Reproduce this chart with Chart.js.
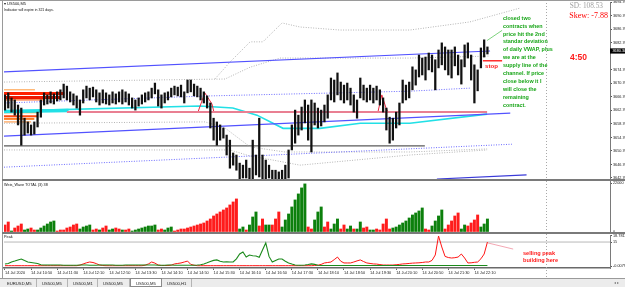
<!DOCTYPE html>
<html>
<head>
<meta charset="utf-8">
<script src="https://cdn.jsdelivr.net/npm/chart.js@4.4.1/dist/chart.umd.min.js"></script>
<style>
  html, body { margin: 0; padding: 0; background: #fff; }
  #wrap { position: relative; width: 625px; height: 287px; overflow: hidden; background: #fff; font-family: 'Liberation Sans', Arial, sans-serif; color: #111; }
  canvas { position: absolute; left: 0; }
  .line { position: absolute; background: #7a7a7a; }
  .s { position: absolute; transform-origin: 0 0; transform: scale(0.5); white-space: nowrap; }
  .txt { position: absolute; white-space: nowrap; }
  #tabs { position: absolute; left: 0; top: 278px; width: 625px; height: 9px; background: #ececec; border-top: 1px solid #9a9a9a; box-sizing: border-box; }
  .tab { position: absolute; top: 0; height: 8px; border-right: 1px solid #b4b4b4; box-sizing: border-box; }
  .tab.active { background: #fff; border: 1px solid #8a8a8a; top: -1px; height: 9px; }
</style>
</head>
<body>
<div id="wrap">
  <canvas id="mainChart" width="625" height="179" style="top:0;width:625px;height:179px"></canvas>
  <canvas id="weisChart" width="625" height="51" style="top:181px;width:625px;height:51px"></canvas>
  <canvas id="peakChart" width="625" height="44" style="top:234px;width:625px;height:44px"></canvas>

  <div class="line" style="left:0;top:0;width:625px;height:1px;background:#9a9a9a"></div>
  <div class="line" style="left:2px;top:0;width:1px;height:278px;background:#9a9a9a"></div>
  <div class="line" style="left:2px;top:179px;width:623px;height:2px"></div>
  <div class="line" style="left:2px;top:232px;width:623px;height:2px"></div>

  <div class="s" style="left:4px;top:1.5px;font-size:8px;line-height:8px">&#9662; US500,M5</div>
  <div class="s" style="left:4px;top:7.5px;font-size:7px;line-height:7px">Indicator will expire in 321 days.</div>
  <div class="txt" style="right:22px;top:1.9px;font:7.3px/8px 'Liberation Serif',serif;color:#a0a0a0">SD: 108.53</div>
  <div class="txt" style="right:17px;top:11.4px;font:8px/9px 'Liberation Serif',serif;color:#ff0000">Skew: -7.88</div>
  <div class="s" style="left:503px;top:14px;font:bold 10.8px/15.8px 'Liberation Sans',sans-serif;color:#18a518">closed two<br>contracts when<br>price hit the 2nd<br>standar deviation<br>of daily VWAP, plus<br>we are at the<br>supply line of the<br>channel. If price<br>close below it I<br>will close the<br>remaining<br>contract.</div>
  <div class="txt" style="left:570px;top:52px;font:bold 8.5px/10px 'Liberation Sans',sans-serif;color:#ff1a1a">4:50</div>
  <div class="s" style="left:485px;top:62.2px;font:bold 12.4px/14px 'Liberation Sans',sans-serif;color:#ff1a1a">stop</div>
  <div class="s" style="left:4px;top:182.5px;font-size:7.6px;line-height:8px">Weis_Wave TOTAL (3) 38</div>
  <div class="s" style="left:4px;top:235px;font-size:7.6px;line-height:8px">Peak</div>
  <div class="s" style="left:523px;top:248.7px;font:bold 11.2px/15.4px 'Liberation Sans',sans-serif;color:#ff1a1a">selling peak<br>building here</div>

  <div id="tabs"></div>
  <div class="s" style="left:614px;top:280.5px;font-size:8px;line-height:8px;color:#777">&#9666; &#9656;</div>
</div>

<script>
// bar index -> time label, one label every 8 bars (M5)
const timeLabels = ['14 Jul 2020', '14 Jul 10:50', '14 Jul 11:30', '14 Jul 12:10', '14 Jul 12:50', '14 Jul 13:30',
  '14 Jul 14:10', '14 Jul 14:50', '14 Jul 15:30', '14 Jul 16:10', '14 Jul 16:50', '14 Jul 17:30', '14 Jul 18:10',
  '14 Jul 18:50', '14 Jul 19:30', '14 Jul 20:10', '14 Jul 20:50', '14 Jul 21:30', '14 Jul 22:10'];
const priceTicks = ['3642.70', '3646.70', '3650.70', '3654.70', '3658.70', '3662.70', '3666.70', '3670.70',
  '3674.70', '3682.70', '3686.70', '3690.70', '3694.70'];
const weisTicks = ['0', '22000'];
const peakTicks = ['-0.0079', '15', '18.7811'];

const candleHigh = [
  3667.3, 3667.9, 3666.4, 3665.8, 3664.3, 3663.4, 3660.4, 3659.3, 3658.4, 3659.3,
  3662.2, 3665.8, 3667.9, 3667.3, 3668.2, 3667.6, 3668.2, 3668.8, 3670.5, 3669.9,
  3668.2, 3667.6, 3667.0, 3665.8, 3668.8, 3669.9, 3669.3, 3669.6, 3668.8, 3667.9,
  3668.8, 3667.9, 3667.3, 3668.2, 3667.6, 3668.2, 3668.8, 3668.2, 3667.6, 3666.4,
  3665.8, 3666.4, 3667.3, 3667.9, 3668.2, 3669.3, 3670.8, 3668.8, 3667.3, 3667.9,
  3668.2, 3669.3, 3669.9, 3669.6, 3670.2, 3668.2, 3671.7, 3671.7, 3670.5, 3669.9,
  3669.3, 3668.2, 3667.0, 3664.9, 3660.4, 3659.3, 3658.4, 3657.5, 3655.4, 3653.9,
  3650.1, 3649.5, 3647.1, 3646.5, 3648.0, 3645.6, 3653.9, 3649.5, 3660.4, 3649.5,
  3648.0, 3646.5, 3645.0, 3645.0, 3644.5, 3645.0, 3646.5, 3651.0, 3658.4, 3662.8,
  3661.3, 3663.7, 3665.8, 3664.3, 3665.8, 3664.9, 3663.4, 3662.8, 3664.3, 3667.3,
  3672.3, 3671.7, 3673.8, 3671.1, 3670.2, 3670.8, 3669.3, 3667.3, 3665.8, 3672.3,
  3670.2, 3669.3, 3670.2, 3669.3, 3669.9, 3668.8, 3666.4, 3663.4, 3660.7, 3660.4,
  3662.2, 3664.9, 3671.7, 3670.2, 3671.1, 3675.6, 3674.7, 3679.1, 3678.2, 3678.5,
  3679.7, 3679.1, 3677.7, 3680.6, 3682.7, 3681.5, 3680.6, 3680.6, 3681.5, 3679.1,
  3677.7, 3682.1, 3682.7, 3679.1, 3676.2, 3674.7, 3681.2, 3683.6, 3681.5];
const candleLow = [
  3662.8, 3663.4, 3662.2, 3661.3, 3658.4, 3652.4, 3655.4, 3656.0, 3655.4, 3655.7,
  3657.8, 3660.7, 3664.3, 3664.6, 3664.9, 3664.6, 3665.5, 3665.8, 3666.4, 3665.8,
  3665.2, 3664.3, 3663.4, 3661.3, 3664.9, 3666.4, 3665.8, 3666.7, 3665.2, 3664.3,
  3664.9, 3664.6, 3664.3, 3664.9, 3664.6, 3665.2, 3664.6, 3665.2, 3664.3, 3663.4,
  3662.8, 3664.0, 3664.6, 3665.2, 3665.8, 3666.4, 3667.6, 3664.0, 3663.4, 3664.9,
  3665.8, 3666.7, 3667.3, 3667.0, 3666.7, 3664.9, 3667.9, 3668.2, 3667.0, 3666.7,
  3665.8, 3664.9, 3663.4, 3657.5, 3653.9, 3652.4, 3653.9, 3654.5, 3649.5, 3645.6,
  3646.5, 3645.0, 3642.1, 3642.7, 3642.7, 3642.1, 3642.1, 3643.6, 3643.0, 3642.1,
  3642.1, 3642.7, 3642.1, 3642.1, 3642.1, 3642.1, 3642.1, 3642.7, 3651.0, 3653.0,
  3655.4, 3656.9, 3659.0, 3653.9, 3650.4, 3658.4, 3657.5, 3658.1, 3659.3, 3660.4,
  3665.8, 3665.2, 3667.3, 3665.8, 3664.9, 3665.8, 3664.3, 3662.2, 3660.4, 3666.4,
  3665.8, 3665.2, 3665.8, 3664.9, 3665.8, 3664.3, 3662.2, 3656.9, 3653.0, 3653.9,
  3657.5, 3658.4, 3664.9, 3665.8, 3666.4, 3668.8, 3670.2, 3672.6, 3673.2, 3671.7,
  3674.7, 3674.1, 3668.8, 3675.3, 3676.2, 3674.7, 3673.2, 3672.3, 3675.9, 3673.2,
  3670.5, 3675.6, 3678.2, 3671.7, 3664.9, 3668.5, 3675.3, 3678.5, 3679.4];
const lastPrice = 3680.3;

// Weis wave volume: positive = up wave, negative = down wave
const weisVol = [
  -3150, -4500, 450, -1800, -2700, -3600, 900, 1350, -1800, -900,
  900, 1800, 2700, 3600, 4500, 4950, -450, -900, -900, -1800,
  -2250, -3150, -3600, 1350, 2250, 2700, 3150, -900, -1350, 900,
  -1800, -2700, 900, 1350, -1800, -1350, 900, -900, -1350, 450,
  900, 1350, 1800, 2250, 2700, 2700, 3150, -900, -1350, 900,
  1800, 2250, -450, -900, -1350, -1350, -1800, -2250, -2700, -3150,
  -3600, -4050, -4950, -5850, -7200, -8100, -9000, -9900, -10800, -12150,
  -13500, -14850, 1350, 2250, -900, 3150, 6750, 9000, -2700, -5850,
  3150, 3150, -3150, -5850, -9000, 2250, 5400, 8100, 11250, 14400,
  17100, 19800, 21600, -2250, -1350, 5400, 9000, 11250, -2250, -4500,
  1350, 3600, 5850, -1350, -3150, 1350, 2700, -1350, 1350, 4500,
  -1800, -2250, 900, 900, -1350, -900, -3600, -5850, -1350, 1800,
  2250, 3150, 4050, 4950, 6300, 7650, 8550, 9450, 10800, -1350,
  -900, 2700, 4950, 7200, 9900, -1350, -3150, -4950, -7200, -8550,
  1350, 3150, -2700, -4050, -5400, -7650, 2250, 3600, 5850];

const peakBuy = [
  1.3, 1.6, 2.5, 3.1, 3.8, 4.4, 3.4, 2.5, 2.2, 1.9,
  1.6, 0.8, 0.6, 0.6, 0.6, 0.6, 0.6, 0.6, 0.5, 0.5,
  0.5, 0.5, 0.5, 0.6, 0.6, 0.6, 0.5, 0.5, 0.5, 0.6,
  0.6, 0.6, 0.6, 0.6, 0.5, 0.5, 0.5, 0.6, 0.6, 0.6,
  0.6, 0.6, 0.6, 0.6, 0.6, 0.6, 0.6, 0.5, 0.5, 0.5,
  0.6, 0.6, 0.5, 0.5, 0.5, 0.5, 0.5, 0.5, 0.5, 0.6,
  0.8, 1.3, 2.0, 2.8, 3.5, 3.8, 3.0, 2.5, 2.6, 2.5,
  2.6, 4.5, 7.5, 8.8, 5.6, 6.9, 6.4, 6.3, 5.5, 10.0,
  14.4, 6.0, 2.5, 3.5, 4.4, 4.4, 3.0, 1.9, 1.2, 0.6,
  0.5, 0.5, 0.6, 0.9, 1.3, 1.0, 0.5, 0.3, 0.3, 0.3,
  0.3, 0.3, 0.3, 0.3, 0.3, 0.3, 0.3, 0.3, 0.3, 0.3,
  0.3, 0.3, 0.3, 0.3, 0.3, 0.3, 0.3, 0.3, 0.3, 0.3,
  0.3, 0.3, 0.3, 0.3, 0.3, 0.3, 0.3, 0.3, 0.3, 0.3,
  0.3, 0.3, 0.3, 0.3, 0.3, 0.3, 0.3, 0.3, 0.3, 0.3,
  0.3, 0.3, 0.3, 0.3, 0.3, 0.3, 0.3, 0.3, 0.3];
const peakSell = [
  0.2, 0.2, 0.2, 0.2, 0.2, 0.2, 0.2, 0.2, 0.2, 0.2,
  0.2, 0.2, 0.2, 0.2, 0.2, 0.2, 0.2, 0.2, 0.2, 0.2,
  0.2, 0.2, 0.2, 0.5, 1.3, 2.0, 2.5, 2.2, 1.5, 0.6,
  0.3, 0.2, 0.2, 0.2, 0.2, 0.2, 0.2, 0.2, 0.2, 0.2,
  0.2, 0.2, 0.2, 0.5, 1.3, 2.5, 1.8, 0.6, 0.3, 0.3,
  0.3, 0.5, 1.3, 1.6, 1.9, 2.5, 3.1, 1.0, 0.5, 0.2,
  0.2, 0.2, 0.2, 0.2, 0.2, 0.2, 0.2, 0.2, 0.2, 0.2,
  0.2, 0.2, 0.2, 0.2, 0.2, 0.2, 0.2, 0.2, 0.2, 0.2,
  0.2, 0.2, 0.2, 0.2, 0.2, 0.2, 0.2, 0.2, 0.2, 0.2,
  0.2, 0.2, 0.2, 0.2, 0.2, 0.3, 0.5, 1.0, 1.9, 2.2,
  2.5, 4.0, 5.6, 3.0, 1.9, 1.9, 1.9, 2.5, 3.2, 3.8,
  2.8, 1.9, 1.6, 1.3, 1.2, 0.9, 0.6, 0.6, 0.6, 0.6,
  0.8, 1.0, 1.3, 1.4, 1.6, 1.8, 1.9, 2.0, 2.2, 2.5,
  2.5, 3.5, 6.9, 18.78, 11.9, 6.0, 5.3, 5.0, 5.2, 5.6,
  7.5, 5.0, 1.9, 2.0, 2.3, 2.5, 4.5, 7.5, 15.0];
const peakLevel = 15;

// indicator lines on the price pane: [bar index, price]
const channelTop = [[-0.3, 3674.1], [148.8, 3680.3]];
const channelBottom = [[-0.3, 3655.1], [155, 3661.9]];
const channelLow = [[-0.3, 3645.9], [155.5, 3652.7]];
const channelBase = [[132.5, 3642.4], [160, 3643.6]];
const bandInner = [[-0.3, 3664.9], [62.9, 3667.0], [124.2, 3668.4], [142.6, 3669.3]];
const vwapUp1 = [[-0.3, 3671.1], [67.5, 3672.0], [75.2, 3675.5], [84.4, 3678.2], [124.2, 3678.2], [148.8, 3678.8]];
const vwapUp2 = [[64.4, 3672.0], [69, 3677.0], [75.2, 3683.0], [79.1, 3683.0], [85, 3688.6], [90.5, 3687.4],
  [102.8, 3686.5], [124.2, 3686.5], [142.6, 3688.9], [158, 3693.0]];
const vwapLow1 = [[-0.3, 3658.9], [61.4, 3659.3], [67.5, 3657.5], [75.2, 3651.9], [85.9, 3650.4], [124.2, 3650.4], [147.9, 3651.3]];
const vwapLow2 = [[-0.3, 3651.0], [69, 3651.0], [75.2, 3649.2], [82.2, 3648.0], [90.5, 3646.5], [124.2, 3649.5], [147.9, 3651.0]];
const greyLevel = [[-0.3, 3652.2], [128.8, 3652.2]];
const vwapLine = [[-0.3, 3662.5], [59.8, 3664.0], [69.9, 3663.4], [77.3, 3661.3], [85.3, 3657.4], [96.6, 3657.4],
  [109, 3658.9], [124.2, 3658.9], [147.9, 3661.6]];
const vwapStart = [[-0.3, 3662.4], [19.5, 3662.7]];
const pinkLevel = [[19, 3662.2], [147.9, 3662.2]];
const spikeA = [[59.2, 3662.2], [61.3, 3667.9], [63.5, 3664.6], [64.1, 3662.2]];
const spikeB = [[114.4, 3662.2], [115.6, 3667.3], [116.9, 3663.4], [117.5, 3662.2]];
const stopLine = [[146.6, 3677.4], [152.5, 3677.4]];
const noteLine = [[147.9, 3683.4], [152.5, 3686.4]];
const sellNote = [[148.2, 14.4], [155.9, 10.6]];
// supply / demand zones at the left edge: [price, last bar]
const supplyZone = [[3668.8, 9.2], [3667.7, 18.2], [3666.5, 16.9], [3665.8, 12]];
const demandZone = [[3662.1, 10], [3661.0, 10], [3660.2, 9], [3659.3, 8]];
const shiftBar = 165.9;

const tabNames = ['EURUSD,M5', 'US500,M5', 'US500,M1', 'US500,M5', 'US500,M5', 'US500,H1'];
const tabEdges = [2, 37, 68, 98, 130, 162, 192];
const activeTab = 4;

// ---- tabs ----
const tabBar = document.getElementById('tabs');
tabNames.forEach((name, i) => {
  const t = document.createElement('div');
  t.className = 'tab' + (i === activeTab ? ' active' : '');
  t.style.left = tabEdges[i] + 'px';
  t.style.width = (tabEdges[i + 1] - tabEdges[i]) + 'px';
  const s = document.createElement('div');
  s.className = 's';
  s.style.cssText = 'left:5px;top:1.5px;font-size:8.4px;line-height:9px;color:#222';
  s.textContent = name;
  t.appendChild(s);
  tabBar.appendChild(t);
});

// ---- chart helpers ----
const xMin = -0.3, xMax = 185.6, labelEvery = 8;
const axisFont = { size: 3.8, family: "'Liberation Sans', Arial, sans-serif" };

const pts = arr => arr.map(p => ({ x: p[0], y: p[1] }));
const line = (arr, color, width, dash, order) => ({
  type: 'line', data: pts(arr), borderColor: color, borderWidth: width, borderDash: dash || [],
  pointRadius: 0, fill: false, tension: 0, order: order || 2
});

const xAxis = show => ({
  type: 'linear', min: xMin, max: xMax, offset: false, display: show,
  afterBuildTicks: s => { s.ticks = timeLabels.map((_, k) => ({ value: k * labelEvery })); },
  afterFit: s => { s.paddingLeft = 0; s.paddingRight = 0; if (show) s.height = 10; },
  ticks: {
    autoSkip: false, maxRotation: 0, minRotation: 0, align: 'start', padding: 0.5,
    font: { size: 3.9, family: axisFont.family }, color: '#222',
    callback: v => timeLabels[Math.round(v / labelEvery)]
  },
  grid: { drawOnChartArea: false, drawTicks: true, tickLength: 2, color: '#666' },
  border: { display: show, color: '#6a6a6a', width: 1.5 }
});

const yAxis = (min, max, labels) => ({
  type: 'linear', position: 'right', min: min, max: max,
  afterBuildTicks: s => { s.ticks = labels.map(t => ({ value: parseFloat(t) })); },
  afterFit: s => { s.width = 15; s.paddingTop = 0; s.paddingBottom = 0; },
  ticks: { autoSkip: false, padding: 1, font: axisFont, color: '#222', callback: (v, i) => labels[i] },
  grid: { drawOnChartArea: false, drawTicks: true, tickLength: 2, color: '#555' },
  border: { display: true, color: '#7a7a7a' }
});

const overlay = {
  id: 'overlay',
  afterDatasetsDraw(chart, args, opts) {
    const { ctx } = chart;
    const px = Math.round(chart.scales.x.getPixelForValue(shiftBar)) + 0.5;
    ctx.save();
    ctx.strokeStyle = '#a8a8a8';
    ctx.lineWidth = 1;
    ctx.setLineDash([1, 2]);
    ctx.beginPath();
    ctx.moveTo(px, 0);
    ctx.lineTo(px, chart.height);
    ctx.stroke();
    ctx.setLineDash([]);
    if (opts && opts.price) {
      const y = chart.scales.y.getPixelForValue(lastPrice);
      const left = chart.chartArea.right;
      ctx.fillStyle = '#000';
      ctx.fillRect(left, y - 2.6, 15, 5.2);
      ctx.fillStyle = '#fff';
      ctx.font = '3.8px ' + axisFont.family;
      ctx.textBaseline = 'middle';
      ctx.fillText(lastPrice.toFixed(2), left + 2.5, y + 0.2);
    }
    ctx.restore();
  }
};

const baseOptions = (scales, price, padTop) => ({
  responsive: false, animation: false, devicePixelRatio: 1,
  layout: { padding: { left: 4, top: padTop, right: 0, bottom: 0 } },
  plugins: { legend: { display: false }, tooltip: { enabled: false }, overlay: { price: price } },
  scales: scales
});

// ---- price pane ----
const supplyColors = ['#ff9a3c', '#ff2200', '#ee1a00', '#ff6a2a'];
const supplyWidths = [1, 3, 3, 1.2];
const demandColors = ['#ff8c1a', '#ff4a10', '#ff7a20', '#ffb070'];
const demandWidths = [1.5, 2, 2, 1.5];

const mainSets = [
  {
    type: 'bar', data: candleHigh.map((h, i) => ({ x: i, y: [candleLow[i], h] })),
    backgroundColor: '#111', barThickness: 1.6, order: 0
  },
  line(channelTop, '#5252ff', 1.2),
  line(channelBottom, '#5252ff', 1.2),
  line(channelLow, '#6a6aff', 1, [1, 1.5]),
  line(channelBase, '#3a3ad8', 1.2),
  line(bandInner, '#6a6aff', 1, [1, 1.5]),
  line(vwapUp1, '#b4b4b4', 1, [1, 1.5]),
  line(vwapUp2, '#b4b4b4', 1, [1, 1.5]),
  line(vwapLow1, '#b4b4b4', 1, [1, 1.5]),
  line(vwapLow2, '#b4b4b4', 1, [1, 1.5]),
  line(greyLevel, '#5a5a5a', 1.2),
  line(pinkLevel, '#e97f92', 2),
  line(spikeA, '#e8283f', 1),
  line(spikeB, '#e8283f', 1),
  line(vwapLine, '#22e0e6', 1.6),
  line(vwapStart, '#22e0e6', 3.5),
  line(stopLine, '#ff3030', 1.5),
  line(noteLine, '#5ec85e', 0.8)
];
supplyZone.forEach((z, k) => mainSets.push(line([[-0.3, z[0]], [z[1], z[0]]], supplyColors[k], supplyWidths[k], null, 3)));
demandZone.forEach((z, k) => mainSets.push(line([[-0.3, z[0]], [z[1], z[0]]], demandColors[k], demandWidths[k], null, 3)));

new Chart(document.getElementById('mainChart'), {
  type: 'bar',
  data: { datasets: mainSets },
  options: baseOptions({ x: xAxis(false), y: yAxis(3642.4, 3694.8, priceTicks) }, true, 2),
  plugins: [overlay]
});

// ---- Weis wave pane ----
new Chart(document.getElementById('weisChart'), {
  type: 'bar',
  data: {
    datasets: [{
      data: weisVol.map((v, i) => ({ x: i, y: Math.abs(v) })),
      backgroundColor: c => weisVol[c.dataIndex] >= 0 ? '#0c800c' : '#ff1c1c',
      barThickness: 2.3
    }]
  },
  options: baseOptions({ x: xAxis(false), y: yAxis(0, 22900, weisTicks) }, false, 0),
  plugins: [overlay]
});

// ---- Peak pane ----
new Chart(document.getElementById('peakChart'), {
  type: 'line',
  data: {
    datasets: [
      line([[xMin, peakLevel], [xMax, peakLevel]], '#b8b8b8', 1, null, 4),
      line(peakSell.map((v, i) => [i, v]), '#ff1414', 1, null, 2),
      line(peakBuy.map((v, i) => [i, v]), '#1b8a1b', 1.1, null, 1),
      line(sellNote, '#f090a0', 0.8, null, 3)
    ]
  },
  options: baseOptions({ x: xAxis(true), y: yAxis(-1.25, 19.4, peakTicks) }, false, 1),
  plugins: [overlay]
});
</script>
</body>
</html>
